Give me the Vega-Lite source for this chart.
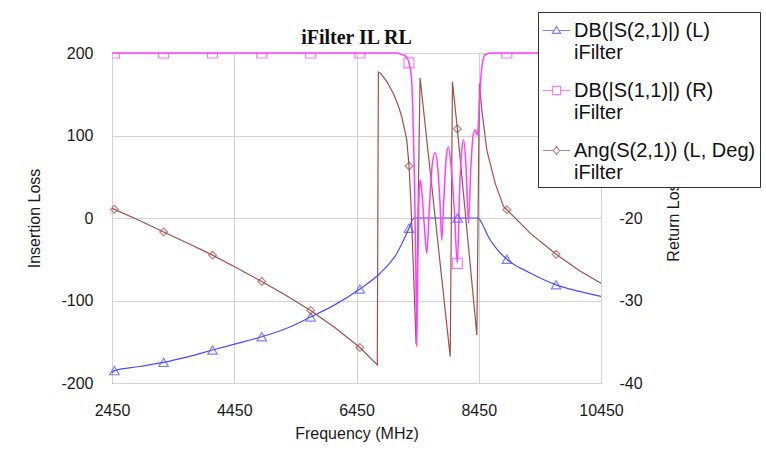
{
  "$schema": "https://vega.github.io/schema/vega-lite/v6.json",
  "width": 489,
  "height": 330,
  "autosize": {"type": "none"},
  "padding": {"left": 112, "top": 53, "right": 165, "bottom": 81},
  "background": "white",
  "title": {"text": "iFilter IL RL", "font": "Liberation Serif", "fontSize": 20, "fontWeight": "bold", "color": "#111111", "anchor": "middle", "frame": "group", "offset": 10, "dy": 46},
  "config": {
    "view": {"stroke": "#555555", "strokeWidth": 1},
    "axis": {"labelFont": "Liberation Sans", "labelFontSize": 16, "labelColor": "#1a1a1a", "titleFont": "Liberation Sans", "titleFontSize": 16, "titleFontWeight": "normal", "titleColor": "#1a1a1a", "domain": false, "ticks": false, "tickSize": 0, "gridColor": "#d2d2d2", "gridWidth": 1, "labelFlush": false, "labelOverlap": false, "labelExpr": "datum.value + ''"}
  },
  "datasets": {
    "s21": [
      {"f": 2450, "v": -188}, {"f": 2490, "v": -185}, {"f": 2900, "v": -180}, {"f": 3295, "v": -175}, {"f": 3700, "v": -168},
      {"f": 4095, "v": -160}, {"f": 4500, "v": -152}, {"f": 4900, "v": -144}, {"f": 5300, "v": -134}, {"f": 5700, "v": -120},
      {"f": 6100, "v": -105}, {"f": 6505, "v": -86}, {"f": 6835, "v": -67}, {"f": 7108, "v": -43}, {"f": 7200, "v": -30},
      {"f": 7308, "v": -12.5}, {"f": 7365, "v": -2}, {"f": 7400, "v": 0}, {"f": 8440, "v": 0}, {"f": 8500, "v": -6},
      {"f": 8609, "v": -23}, {"f": 8750, "v": -38}, {"f": 8910, "v": -50}, {"f": 9300, "v": -67}, {"f": 9715, "v": -81},
      {"f": 10100, "v": -89}, {"f": 10450, "v": -95}
    ],
    "m21": [
      {"f": 2490, "v": -185}, {"f": 3295, "v": -175}, {"f": 4095, "v": -160}, {"f": 4900, "v": -144}, {"f": 5700, "v": -120},
      {"f": 6505, "v": -86}, {"f": 7308, "v": -12.5}, {"f": 8105, "v": 0}, {"f": 8910, "v": -50}, {"f": 9715, "v": -81}
    ],
    "s11": [
      {"f": 2450, "v": 0}, {"f": 7100, "v": 0}, {"f": 7200, "v": -0.2}, {"f": 7270, "v": -0.5}, {"f": 7308, "v": -1.2},
      {"f": 7350, "v": -3}, {"f": 7375, "v": -8}, {"f": 7400, "v": -16}, {"f": 7420, "v": -26}, {"f": 7436, "v": -35.6},
      {"f": 7452, "v": -26}, {"f": 7470, "v": -18}, {"f": 7490, "v": -15.4}, {"f": 7515, "v": -16.5}, {"f": 7560, "v": -21},
      {"f": 7600, "v": -24.3}, {"f": 7640, "v": -19}, {"f": 7690, "v": -13.5}, {"f": 7736, "v": -12.1}, {"f": 7780, "v": -14},
      {"f": 7815, "v": -18}, {"f": 7845, "v": -22.7}, {"f": 7880, "v": -17.5}, {"f": 7920, "v": -12.5}, {"f": 7954, "v": -11.4},
      {"f": 7995, "v": -13.5}, {"f": 8050, "v": -19}, {"f": 8100, "v": -25.5}, {"f": 8140, "v": -16}, {"f": 8170, "v": -12},
      {"f": 8200, "v": -10.5}, {"f": 8240, "v": -13.5}, {"f": 8281, "v": -20.6}, {"f": 8320, "v": -14}, {"f": 8355, "v": -10.2},
      {"f": 8390, "v": -9.3}, {"f": 8425, "v": -10}, {"f": 8455, "v": -7}, {"f": 8480, "v": -3.5}, {"f": 8510, "v": -1.2},
      {"f": 8555, "v": -0.2}, {"f": 8650, "v": 0}, {"f": 10450, "v": 0}
    ],
    "m11": [
      {"f": 2490, "v": 0}, {"f": 3295, "v": 0}, {"f": 4095, "v": 0}, {"f": 4900, "v": 0}, {"f": 5700, "v": 0},
      {"f": 6505, "v": 0}, {"f": 7308, "v": -1.2}, {"f": 8100, "v": -25.5}, {"f": 8910, "v": 0}, {"f": 9715, "v": 0}
    ],
    "ang": [
      {"f": 2450, "v": 12}, {"f": 2490, "v": 10.5}, {"f": 2900, "v": -3}, {"f": 3295, "v": -17}, {"f": 3700, "v": -31},
      {"f": 4095, "v": -45}, {"f": 4500, "v": -61}, {"f": 4900, "v": -77}, {"f": 5300, "v": -94}, {"f": 5700, "v": -112},
      {"f": 6100, "v": -133}, {"f": 6505, "v": -157}, {"f": 6790, "v": -178}, {"f": 6808, "v": 177}, {"f": 6850, "v": 175},
      {"f": 6950, "v": 165}, {"f": 7053, "v": 151}, {"f": 7130, "v": 137}, {"f": 7190, "v": 123}, {"f": 7272, "v": 95},
      {"f": 7310, "v": 63}, {"f": 7338, "v": 22}, {"f": 7370, "v": -39}, {"f": 7425, "v": -153}, {"f": 7490, "v": 170},
      {"f": 7983, "v": -168}, {"f": 8020, "v": 165}, {"f": 8100, "v": 108}, {"f": 8419, "v": -142}, {"f": 8461, "v": 163},
      {"f": 8500, "v": 131}, {"f": 8583, "v": 82}, {"f": 8719, "v": 42}, {"f": 8855, "v": 14}, {"f": 8910, "v": 10},
      {"f": 9300, "v": -19}, {"f": 9715, "v": -44}, {"f": 10100, "v": -64}, {"f": 10450, "v": -79}
    ],
    "mang": [
      {"f": 2490, "v": 10.5}, {"f": 3295, "v": -17}, {"f": 4095, "v": -45}, {"f": 4900, "v": -77}, {"f": 5700, "v": -112},
      {"f": 6505, "v": -157}, {"f": 7310, "v": 63}, {"f": 8100, "v": 108}, {"f": 8910, "v": 10}, {"f": 9715, "v": -44}
    ]
  },
  "encoding": {
    "x": {
      "field": "f", "type": "quantitative", "title": "Frequency (MHz)",
      "scale": {"domain": [2450, 10450], "nice": false, "zero": false},
      "axis": {"values": [2450, 4450, 6450, 8450, 10450], "grid": true, "labelPadding": 19, "titleX": 244.5, "titleY": 50, "titleBaseline": "middle", "titleAlign": "center", "titleAnchor": null}
    }
  },
  "layer": [
    {
      "data": {"name": "s21"},
      "mark": {"type": "line", "color": "#4b4bff", "strokeWidth": 1.2, "interpolate": "monotone"},
      "encoding": {
        "y": {"field": "v", "type": "quantitative", "scale": {"domain": [-200, 200], "nice": false, "zero": false},
          "axis": {"values": [-200, -100, 0, 100, 200], "grid": true, "labelPadding": 19, "title": "Insertion Loss", "titleX": -78, "titleY": 165, "titleAngle": 270, "titleBaseline": "middle", "titleAlign": "center"}}
      }
    },
    {
      "data": {"name": "ang"},
      "mark": {"type": "line", "color": "#a0504c", "strokeWidth": 1.2},
      "encoding": {
        "y": {"field": "v", "type": "quantitative", "scale": {"domain": [-200, 200], "nice": false, "zero": false}, "axis": null}
      }
    },
    {
      "data": {"name": "s11"},
      "mark": {"type": "line", "color": "#ff40ff", "strokeWidth": 1.5, "interpolate": "monotone"},
      "encoding": {
        "y": {"field": "v", "type": "quantitative", "scale": {"domain": [-40, 0], "nice": false, "zero": false},
          "axis": {"orient": "right", "values": [-40, -30, -20], "grid": false, "labelPadding": 18, "title": "Return Loss", "titleX": 72, "titleY": 165, "titleAngle": 270, "titleBaseline": "middle", "titleAlign": "center"}}
      }
    },
    {
      "data": {"name": "m21"},
      "mark": {"type": "point", "shape": "triangle-up", "size": 90, "color": "#4b4bff", "filled": false, "strokeWidth": 1.2},
      "encoding": {
        "y": {"field": "v", "type": "quantitative", "scale": {"domain": [-200, 200], "nice": false, "zero": false}, "axis": null}
      }
    },
    {
      "data": {"name": "mang"},
      "mark": {"type": "point", "shape": "diamond", "size": 60, "color": "#a0504c", "filled": false, "strokeWidth": 1.2},
      "encoding": {
        "y": {"field": "v", "type": "quantitative", "scale": {"domain": [-200, 200], "nice": false, "zero": false}, "axis": null}
      }
    },
    {
      "data": {"name": "m11"},
      "mark": {"type": "point", "shape": "square", "size": 100, "color": "#ff40ff", "filled": false, "strokeWidth": 1.2, "clip": true},
      "encoding": {
        "y": {"field": "v", "type": "quantitative", "scale": {"domain": [-40, 0], "nice": false, "zero": false}, "axis": null}
      }
    },
    {
      "data": {"values": []},
      "mark": {"type": "point", "filled": false, "strokeWidth": 1.2},
      "encoding": {
        "color": {"field": "series", "type": "nominal",
          "scale": {"domain": ["DB(|S(2,1)|) (L)~iFilter", "DB(|S(1,1)|) (R)~iFilter", "Ang(S(2,1)) (L, Deg)~iFilter"], "range": ["#4b4bff", "#ff40ff", "#a0504c"]},
          "legend": {"title": null, "orient": "none", "legendX": 426, "legendY": -41, "labelExpr": "split(datum.label, '~')", "labelFont": "Liberation Sans", "labelFontSize": 20, "labelColor": "#111111", "labelLimit": 400, "labelOffset": 3, "symbolSize": 729, "symbolStrokeWidth": 1.2, "padding": 4, "rowPadding": 13, "strokeColor": "#333333", "fillColor": "white", "cornerRadius": 0}},
        "shape": {"field": "series", "type": "nominal",
          "scale": {"domain": ["DB(|S(2,1)|) (L)~iFilter", "DB(|S(1,1)|) (R)~iFilter", "Ang(S(2,1)) (L, Deg)~iFilter"],
            "range": ["M-1,0H-0.22M0.22,0H1M-0.3,0.22L0,-0.3L0.3,0.22Z", "M-1,0H-0.3M0.3,0H1M-0.3,-0.3H0.3V0.3H-0.3Z", "M-1,0H-0.22M0.22,0H1M-0.22,0L0,-0.3L0.22,0L0,0.3Z"]},
          "legend": {"title": null, "orient": "none", "legendX": 426, "legendY": -41, "labelExpr": "split(datum.label, '~')", "labelFont": "Liberation Sans", "labelFontSize": 20, "labelColor": "#111111", "labelLimit": 400, "labelOffset": 3, "symbolSize": 729, "symbolStrokeWidth": 1.2, "padding": 4, "rowPadding": 13, "strokeColor": "#333333", "fillColor": "white", "cornerRadius": 0}}
      }
    }
  ],
  "resolve": {"scale": {"y": "independent", "color": "independent", "shape": "independent"}}
}
